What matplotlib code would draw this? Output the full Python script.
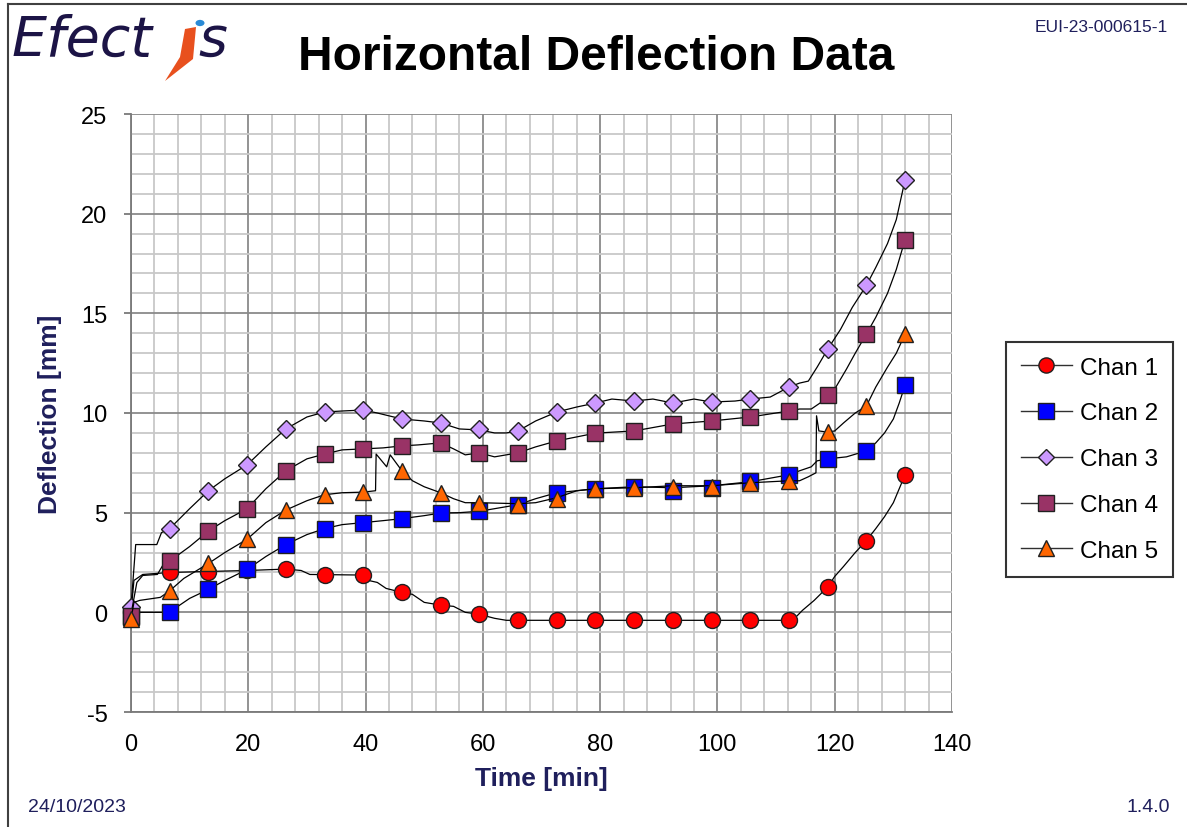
import matplotlib
matplotlib.use("Agg")
import matplotlib.pyplot as plt
from matplotlib.lines import Line2D
from matplotlib.patches import Circle, Polygon
from matplotlib import font_manager

# ---------------- data ----------------
marker_t = [0, 6.6, 13.2, 19.8, 26.4, 33, 39.6, 46.2, 52.8, 59.4, 66, 72.6,
            79.2, 85.8, 92.4, 99, 105.6, 112.2, 118.8, 125.4, 132]

chan1_mk = [0.0, 2.0, 2.0, 2.1, 2.15, 1.87, 1.87, 1.0, 0.36, -0.1, -0.4, -0.4,
            -0.4, -0.4, -0.4, -0.4, -0.4, -0.4, 1.27, 3.6, 6.9]
chan2_mk = [-0.25, 0.0, 1.15, 2.15, 3.4, 4.2, 4.5, 4.7, 4.98, 5.07, 5.4, 6.0,
            6.2, 6.3, 6.1, 6.25, 6.6, 6.9, 7.7, 8.1, 11.4]
chan3_mk = [0.26, 4.2, 6.1, 7.4, 9.2, 10.05, 10.15, 9.7, 9.5, 9.2, 9.1, 10.05,
            10.5, 10.6, 10.5, 10.55, 10.7, 11.3, 13.2, 16.4, 21.7]
chan4_mk = [-0.19, 2.57, 4.08, 5.2, 7.1, 7.94, 8.2, 8.35, 8.5, 8.0, 8.0, 8.6,
            8.99, 9.1, 9.45, 9.6, 9.8, 10.1, 10.9, 13.96, 18.7]
chan5_mk = [-0.34, 1.08, 2.45, 3.67, 5.13, 5.9, 6.03, 7.1, 6.0, 5.5, 5.4, 5.7,
            6.2, 6.25, 6.3, 6.3, 6.5, 6.6, 9.04, 10.35, 13.96]

chan1_t = [0, 0.5, 2, 6.6, 13.2, 20, 26.4, 29, 30.5, 39.6, 40.5, 42, 43.5, 46.2,
           48, 50, 52.8, 55, 57, 59.4, 62, 64, 112.5, 113.5, 114.5, 116.5,
           118.8, 120, 121.5, 123.5, 125.4, 127, 128.5, 130, 131, 132]
chan1_v = [0, 1.6, 1.9, 2.0, 2.05, 2.1, 2.17, 2.1, 1.9, 1.87, 1.6, 1.5, 1.2, 1.0,
           0.9, 0.5, 0.36, 0.3, 0.0, -0.1, -0.3, -0.4, -0.4, -0.2, 0.1, 0.6,
           1.27, 1.8, 2.3, 3.0, 3.6, 4.2, 4.8, 5.5, 6.2, 6.9]

chan2_t = [0, 7, 8, 10, 13.2, 16, 19.8, 23, 26.4, 30, 33, 36, 39.6, 43, 46.2, 50,
           52.8, 56, 59.4, 62, 66, 69, 72.6, 76, 79.2, 85.8, 92.4, 99, 105.6,
           112.2, 114, 116, 117, 118.8, 122, 125.4, 127, 128.5, 130, 131, 132]
chan2_v = [0.0, 0.0, 0.3, 0.7, 1.15, 1.6, 2.15, 2.8, 3.4, 3.9, 4.2, 4.4, 4.5, 4.6,
           4.7, 4.85, 4.98, 5.0, 5.07, 5.2, 5.4, 5.7, 6.0, 6.1, 6.2, 6.3, 6.25,
           6.35, 6.55, 6.9, 7.1, 7.3, 7.6, 7.7, 7.8, 8.1, 8.5, 9.0, 9.7, 10.5, 11.4]

chan3_t = [0, 0.8, 4.4, 5.2, 6.6, 10, 13.2, 16, 19.8, 23, 26.4, 30, 33, 36, 39.6,
           42, 46.2, 50, 52.8, 56, 59.4, 62, 64, 66, 69, 72.6, 76, 79.2, 82,
           85.8, 89, 92.4, 96, 99, 103, 105.6, 109, 112.2, 114, 115.5, 117,
           118.8, 121, 123, 125.4, 127, 129, 130.5, 132]
chan3_v = [0.26, 3.4, 3.4, 4.0, 4.2, 5.2, 6.1, 6.7, 7.4, 8.3, 9.2, 9.8, 10.05,
           10.1, 10.15, 10.0, 9.7, 9.6, 9.5, 9.2, 9.15, 9.0, 9.0, 9.1, 9.6, 10.05,
           10.3, 10.5, 10.7, 10.6, 10.7, 10.5, 10.7, 10.55, 10.6, 10.7, 10.8,
           11.3, 11.5, 11.6, 12.3, 13.2, 14.2, 15.3, 16.4, 17.3, 18.5, 19.7, 21.7]

chan4_t = [0, 1, 2, 4.5, 5.5, 6.6, 10, 13.2, 16, 19.8, 23, 26.4, 30, 33, 36, 39.6,
           43, 46.2, 49, 52.8, 55, 57, 59.4, 62, 66, 69, 72.6, 76, 79.2, 85.8,
           92.4, 99, 105.6, 112.2, 114, 116, 117.5, 118.8, 120, 122, 123.5,
           125.4, 127, 129, 130.5, 132]
chan4_v = [-0.1, 1.5, 1.85, 1.9, 2.4, 2.57, 3.3, 4.08, 4.6, 5.2, 6.2, 7.1, 7.7,
           7.94, 8.15, 8.2, 8.25, 8.35, 8.4, 8.5, 8.2, 7.9, 8.0, 7.8, 8.0, 8.3,
           8.6, 8.8, 8.99, 9.1, 9.45, 9.6, 9.8, 10.1, 10.2, 10.2, 10.5, 10.9,
           11.2, 12.2, 13.0, 13.96, 14.8, 16.0, 17.2, 18.7]

chan5_t = [0, 0.5, 1.5, 5, 6.6, 9, 13.2, 16, 19.8, 23, 26.4, 30, 33, 36, 39.6,
           41.7, 41.8, 43.6, 44.2, 46.2, 48, 50, 52.8, 55, 57, 59.4, 66, 69,
           72.6, 76, 79.2, 85.8, 92.4, 99, 105.6, 112.2, 114, 115.5, 116.8,
           116.9, 117.3, 118.8, 120, 121.5, 123.5, 125.4, 127, 129, 130.5, 132]
chan5_v = [-0.35, 0.5, 0.6, 0.75, 1.08, 1.7, 2.45, 3.0, 3.67, 4.5, 5.13, 5.6, 5.9,
           6.0, 6.03, 6.1, 7.94, 7.3, 7.9, 7.1, 6.6, 6.3, 6.0, 5.7, 5.5, 5.5,
           5.45, 5.5, 5.75, 6.1, 6.2, 6.25, 6.35, 6.35, 6.5, 6.6, 6.6, 6.8, 7.0,
           9.86, 9.1, 9.04, 9.1, 9.5, 10.0, 10.35, 11.3, 12.3, 13.0, 13.96]

series_names = ["Chan 1", "Chan 2", "Chan 3", "Chan 4", "Chan 5"]
x_ticks = [0, 20, 40, 60, 80, 100, 120, 140]
y_ticks = [-5, 0, 5, 10, 15, 20, 25]

# ---------------- fonts ----------------
avail = {f.name for f in font_manager.fontManager.ttflist}
base = "Liberation Sans" if "Liberation Sans" in avail else "DejaVu Sans"
narrow = "Liberation Sans Narrow" if "Liberation Sans Narrow" in avail else base
plt.rcParams["font.family"] = [base, "DejaVu Sans"]
plt.rcParams["axes.unicode_minus"] = False

W, H = 1187, 828
fig = plt.figure(figsize=(W / 100, H / 100), dpi=100)
navy = "#1f1f5c"

ax = fig.add_axes([131 / W, 1 - 713 / H, (952 - 131) / W, (713 - 115) / H])
ax.set_xlim(0, 140)
ax.set_ylim(-5, 25)
ax.set_xticks(x_ticks)
ax.set_yticks(y_ticks)
ax.set_xticks(range(0, 141, 4), minor=True)
ax.set_yticks(range(-5, 26, 1), minor=True)
ax.grid(which="minor", color="#c8c8c8", lw=1.3, zorder=0)
ax.grid(which="major", color="#8a8a8a", lw=1.3, zorder=0)
ax.set_axisbelow(True)
for s in ["top", "right"]:
    ax.spines[s].set_visible(False)
for s in ["left", "bottom"]:
    ax.spines[s].set_color("#7a7a7a")
    ax.spines[s].set_linewidth(1.3)
ax.tick_params(axis="y", which="major", length=5, width=1.3, color="#7a7a7a",
               pad=12, labelsize=17)
ax.tick_params(axis="x", which="major", length=0, pad=15, labelsize=17)
ax.tick_params(which="minor", length=0)

styles = [
    dict(marker="o", mfc="#ff0000", ms=11.5),
    dict(marker="s", mfc="#0000ff", ms=11.5),
    dict(marker="D", mfc="#cc99ff", ms=9),
    dict(marker="s", mfc="#993366", ms=11.5),
    dict(marker="^", mfc="#ff6600", ms=12),
]
lines_t = [chan1_t, chan2_t, chan3_t, chan4_t, chan5_t]
lines_v = [chan1_v, chan2_v, chan3_v, chan4_v, chan5_v]
marks = [chan1_mk, chan2_mk, chan3_mk, chan4_mk, chan5_mk]

handles = []
for i in range(5):
    ax.plot(lines_t[i], lines_v[i], color="black", lw=0.9, zorder=3 + 2 * i,
            clip_on=False)
    ax.plot(marker_t, marks[i], ls="none", marker=styles[i]["marker"],
            mfc=styles[i]["mfc"], mec="#202020", mew=1.0, ms=styles[i]["ms"],
            zorder=4 + 2 * i, clip_on=False)
    handles.append(Line2D([], [], color="#303030", lw=1.0,
                          marker=styles[i]["marker"], mfc=styles[i]["mfc"],
                          mec="#202020", mew=1.0, ms=styles[i]["ms"] * 0.95,
                          label=series_names[i]))

leg = fig.legend(handles=handles, loc="upper left",
                 bbox_to_anchor=(1006 / W, 1 - 343 / H), fontsize=17.5,
                 frameon=True, fancybox=False, edgecolor="black",
                 handlelength=2.1, handletextpad=0.35, labelspacing=0.98,
                 borderpad=0.6, borderaxespad=0)
leg.get_frame().set_linewidth(1.5)

ax.set_xlabel("Time [min]", fontsize=19, fontweight="bold", color=navy,
              family=[narrow, "DejaVu Sans"], labelpad=8)
ax.set_ylabel("Deflection [mm]", fontsize=19, fontweight="bold", color=navy,
              family=[narrow, "DejaVu Sans"], labelpad=14)

fig.text(596 / W, 1 - 57 / H, "Horizontal Deflection Data", fontsize=34.5,
         fontweight="bold", ha="center", va="center", color="black")
fig.text(1168 / W, 1 - 27 / H, "EUI-23-000615-1", fontsize=12.5, ha="right",
         va="center", color=navy, family=[narrow, "DejaVu Sans"])
fig.text(28 / W, 1 - 808 / H, "24/10/2023", fontsize=14, ha="left",
         va="center", color=navy, family=[narrow, "DejaVu Sans"])
fig.text(1170 / W, 1 - 808 / H, "1.4.0", fontsize=14, ha="right",
         va="center", color=navy, family=[narrow, "DejaVu Sans"])

# logo
fig.text(12 / W, 1 - 40 / H, "Efect", fontsize=40, style="italic",
         ha="left", va="center", color="#1c1446", family=["DejaVu Sans"])
fig.text(198 / W, 1 - 40 / H, "s", fontsize=40, style="italic",
         ha="left", va="center", color="#1c1446", family=["DejaVu Sans"])
fig.patches.append(Polygon([(185 / W, 1 - 30 / H), (196 / W, 1 - 28 / H),
                            (193 / W, 1 - 60 / H), (165 / W, 1 - 82 / H),
                            (180 / W, 1 - 58 / H)],
                           closed=True, transform=fig.transFigure,
                           facecolor="#e8501e", edgecolor="none"))
fig.patches.append(Circle((200 / W, 1 - 24 / H), 4.5 / W,
                          transform=fig.transFigure, facecolor="#2a8ad6",
                          edgecolor="none"))

# frame
fig.lines.append(Line2D([8 / W, 8 / W], [0, 1 - 5 / H], transform=fig.transFigure,
                        color="#404040", lw=1.5))
fig.lines.append(Line2D([8 / W, 1], [1 - 5 / H, 1 - 5 / H],
                        transform=fig.transFigure, color="#404040", lw=1.5))

fig.savefig("out.png", dpi=100)
